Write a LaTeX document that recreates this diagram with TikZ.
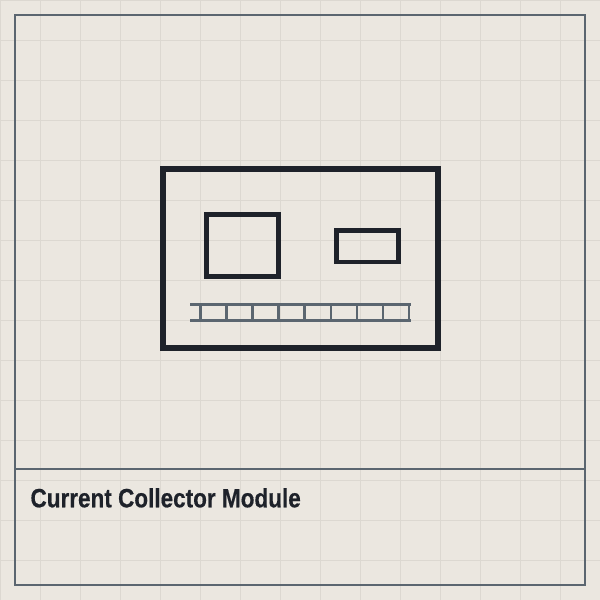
\documentclass[tikz,border=0pt]{standalone}
\usepackage{fontspec}
\setmainfont{Liberation Sans}
\newfontfamily\titlefont[FakeBold=0.5]{Liberation Sans Bold}
\definecolor{bg}{HTML}{EBE7E0}
\definecolor{gridc}{HTML}{DCD8D1}
\definecolor{framec}{HTML}{5B6670}
\definecolor{darkc}{HTML}{1E222A}
\begin{document}
\begin{tikzpicture}[x=1pt,y=-1pt,
  framestyle/.style={draw=framec,line width=2pt},
  bodystyle/.style={draw=darkc,line width=5.5pt,outer sep=0pt,inner sep=0pt},
  partstyle/.style={draw=darkc,line width=4.5pt,outer sep=0pt,inner sep=0pt},
  railstyle/.style={draw=framec,line width=2.7pt},
  tickstyle/.style={draw=framec,line width=2.5pt}]
\fill[bg] (0,0) rectangle (600,600);
\useasboundingbox (0,0) rectangle (600,600);
\foreach \i in {0,40,...,600} {
  \draw[gridc,line width=1pt] (\i,0) -- (\i,600);
  \draw[gridc,line width=1pt] (0,\i) -- (600,\i);
}
\draw[framestyle] (15,15) rectangle (585,585);
\coordinate (dl) at (15,468.7);
\coordinate (dr) at (585,468.7);
\draw[framestyle] (dl) -- (dr);
\node[bodystyle,minimum width=275pt,minimum height=179pt,anchor=north west] (body) at (163,169) {};
\node[partstyle,minimum width=72pt,minimum height=62pt,anchor=north west] (partA) at (206.5,214.5) {};
\node[partstyle,minimum width=62pt,minimum height=31.5pt,anchor=north west] (partB) at (336.5,230.5) {};
\coordinate (rtl) at (190,304.7);
\coordinate (rtr) at (411,304.7);
\coordinate (rbl) at (190,320.3);
\coordinate (rbr) at (411,320.3);
\draw[railstyle] (rtl) -- (rtr);
\draw[railstyle] (rbl) -- (rbr);
\foreach \k in {0,...,8} {
  \draw[tickstyle] ({200.3+\k*26.09},304.7) -- ({200.3+\k*26.09},320.3);
}
\node[anchor=base west,inner sep=0pt,text=darkc] (title) at (30.3,507.3)
  {\scalebox{0.85}[1]{\fontsize{26.5}{30}\selectfont\titlefont Current Collector Module}};
\end{tikzpicture}
\end{document}
